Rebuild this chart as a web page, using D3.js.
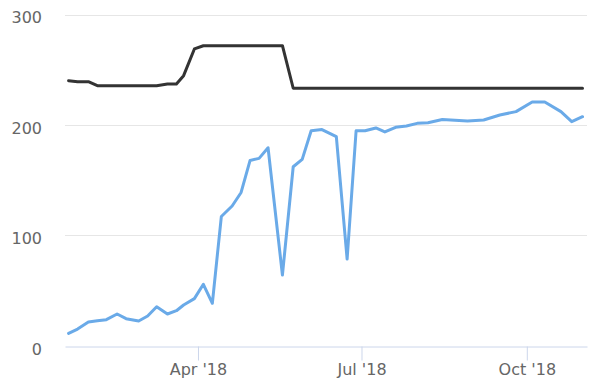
<!DOCTYPE html>
<html><head><meta charset="utf-8">
<script src="https://cdn.jsdelivr.net/npm/d3@7/dist/d3.min.js"></script>
<style>html,body{margin:0;padding:0;background:#fff}svg{display:block}</style>
</head><body>
<svg id="chart" width="600" height="389"></svg>
<script>
const dates = ["2018-01-19","2018-01-24","2018-01-30","2018-02-04","2018-02-09","2018-02-15","2018-02-20","2018-02-27","2018-03-04","2018-03-09","2018-03-15","2018-03-20","2018-03-24","2018-03-30","2018-04-04","2018-04-09","2018-04-14","2018-04-20","2018-04-25","2018-04-30","2018-05-05","2018-05-10","2018-05-18","2018-05-24","2018-05-29","2018-06-03","2018-06-09","2018-06-17","2018-06-23","2018-06-28","2018-07-03","2018-07-09","2018-07-14","2018-07-20","2018-07-26","2018-08-01","2018-08-07","2018-08-15","2018-08-29","2018-09-07","2018-09-16","2018-09-25","2018-10-04","2018-10-11","2018-10-20","2018-10-26","2018-11-01"];
const blueValues = [11.2,15.1,21.5,22.6,23.6,28.7,24.5,22.4,26.9,35.3,28.7,31.7,36.9,42.6,55.6,38.4,117,126.5,138.8,167.8,169.7,179.3,64,162.1,168.8,194.7,195.8,189.3,78.5,194.7,194.7,197.2,193.6,197.8,199,201.4,202,204.9,203.5,204.4,209,212,220.7,220.7,212,202.9,207.4];
const blackValues = [240,239.1,239.1,235.5,235.5,235.5,235.5,235.5,235.5,235.5,237,237,244.6,268.8,271.7,271.7,271.7,271.7,271.7,271.7,271.7,271.7,271.7,233.2,233.2,233.2,233.2,233.2,233.2,233.2,233.2,233.2,233.2,233.2,233.2,233.2,233.2,233.2,233.2,233.2,233.2,233.2,233.2,233.2,233.2,233.2,233.2];
const yTicks = [0,100,200,300];
const xTicks = ["2018-04-01","2018-07-01","2018-10-01"];
const xTickLabels = ["Apr '18","Jul '18","Oct '18"];

(function(){
const parse = d3.utcParse("%Y-%m-%d");
const svg = d3.select("#chart");
const mLeft = 65, mRight = 587, mTop = 14.5, mBottom = 345.7;

const x = d3.scaleUtc()
  .domain([Date.UTC(2018,0,17), Date.UTC(2018,10,3,12)])
  .range([mLeft, mRight]);
const y = d3.scaleLinear().domain([0,300]).range([mBottom, mTop]);

svg.append("g").selectAll("line").data(yTicks.filter(t=>t>0)).join("line")
  .attr("x1", mLeft).attr("x2", mRight)
  .attr("y1", d=>Math.round(y(d))+0.5).attr("y2", d=>Math.round(y(d))+0.5)
  .attr("stroke", "#e6e6e6").attr("stroke-width", 1);

const yAxis = d3.axisLeft(y).tickValues(yTicks).tickSize(0).tickPadding(0);
const yg = svg.append("g").attr("transform", "translate(42,0)").call(yAxis);
yg.select(".domain").remove();
yg.selectAll("text").attr("font-family","DejaVu Sans, Lucida Grande, sans-serif")
  .attr("font-size", 16).attr("fill","#666").attr("dy","0.52em").attr("x",0)
  .attr("text-anchor","end");

const xAxis = d3.axisBottom(x).tickValues(xTicks.map(parse))
  .tickFormat((d,i)=>xTickLabels[i]).tickSize(14).tickSizeOuter(0).tickPadding(3);
const xg = svg.append("g").attr("transform", `translate(0,${Math.round(mBottom)+0.5})`).call(xAxis);
xg.select(".domain").attr("stroke","#ccd6eb").attr("stroke-width",1);
xg.selectAll(".tick line").attr("stroke","#ccd6eb");
xg.selectAll("text").attr("font-family","DejaVu Sans, Lucida Grande, sans-serif")
  .attr("font-size",16).attr("fill","#666");

const line = d3.line().x((d,i)=>x(parse(dates[i]))).y(d=>y(d)).curve(d3.curveLinear);

svg.append("path").datum(blackValues).attr("d", line)
  .attr("fill","none").attr("stroke","#333333").attr("stroke-width",3)
  .attr("stroke-linejoin","round").attr("stroke-linecap","round");
svg.append("path").datum(blueValues).attr("d", line)
  .attr("fill","none").attr("stroke","#6aaae8").attr("stroke-width",3)
  .attr("stroke-linejoin","round").attr("stroke-linecap","round");
})();
</script>
</body></html>
